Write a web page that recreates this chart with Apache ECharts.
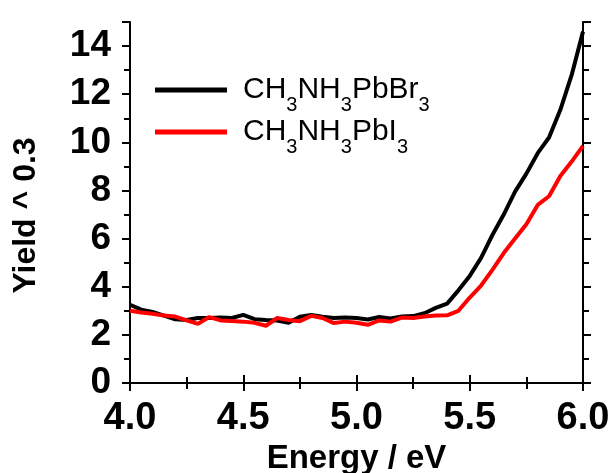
<!DOCTYPE html>
<html>
<head>
<meta charset="utf-8">
<script src="https://cdn.jsdelivr.net/npm/echarts@6/dist/echarts.min.js"></script>
<style>html,body{margin:0;padding:0;background:#fff}#c{width:614px;height:473px}</style>
</head>
<body>
<div id="c"></div>
<script>
var energy = [4.00,4.05,4.10,4.15,4.20,4.25,4.30,4.35,4.40,4.45,4.50,4.55,4.60,4.65,4.70,4.75,4.80,4.85,4.90,4.95,5.00,5.05,5.10,5.15,5.20,5.25,5.30,5.35,5.40,5.45,5.50,5.55,5.60,5.65,5.70,5.75,5.80,5.85,5.90,5.95,6.00];
var yieldBr = [3.25,3.05,2.95,2.8,2.65,2.62,2.7,2.7,2.72,2.7,2.83,2.65,2.62,2.6,2.5,2.75,2.83,2.75,2.7,2.72,2.7,2.64,2.74,2.68,2.76,2.78,2.9,3.12,3.3,3.85,4.45,5.2,6.15,7.0,7.95,8.7,9.55,10.2,11.35,12.8,14.6];
var yieldI = [3.0,2.93,2.88,2.8,2.76,2.6,2.46,2.74,2.6,2.58,2.55,2.5,2.38,2.7,2.62,2.57,2.79,2.7,2.49,2.55,2.5,2.42,2.6,2.55,2.72,2.7,2.76,2.8,2.81,3.0,3.55,4.05,4.7,5.4,6.0,6.6,7.4,7.76,8.6,9.2,9.85];
var seriesNames = ['CH3NH3PbBr3','CH3NH3PbI3'];
var legendRich = {
  'CH3NH3PbBr3': '{g|}{a|CH}{s|3}{a|NH}{s|3}{a|PbBr}{s|3}',
  'CH3NH3PbI3': '{g|}{a|CH}{s|3}{a|NH}{s|3}{a|PbI}{s|3}'
};
var xTicks = [4.0,4.5,5.0,5.5,6.0];

function pairs(xs, ys){ return xs.map(function(x,i){return [x, ys[i]];}); }

var FF = '"Liberation Sans", Arial, sans-serif';
var axisLine = {show:true, lineStyle:{color:'#000', width:2}};
var chart = echarts.init(document.getElementById('c'));
chart.setOption({
  animation:false,
  backgroundColor:'#fff',
  grid:{left:130, top:22, width:453, height:361, containLabel:false, outerBoundsMode:'none'},
  legend:{
    orient:'vertical', left:155, top:75, padding:0, itemWidth:72, itemHeight:5, itemGap:2,
    icon:'rect',
    data:seriesNames,
    formatter:function(n){return legendRich[n];},
    textStyle:{
      fontFamily:FF, color:'#000',
      rich:{
        g:{width:11, lineHeight:30, verticalAlign:'top'},
        a:{fontSize:30, fontFamily:FF, color:'#000', lineHeight:30, verticalAlign:'top'},
        s:{fontSize:20, fontFamily:FF, color:'#000', lineHeight:10, verticalAlign:'top', padding:[20,0,0,0]}
      }
    }
  },
  xAxis:[{
    type:'value', min:4, max:6, interval:0.5, position:'bottom',
    axisLine:axisLine,
    axisTick:{show:true, length:8, lineStyle:{color:'#000', width:2}},
    minorTick:{show:true, splitNumber:2, length:6, lineStyle:{color:'#000', width:2}},
    splitLine:{show:false},
    axisLabel:{fontFamily:FF, fontWeight:'bold', fontSize:38, color:'#000', margin:17,
      formatter:function(v){return v.toFixed(1);}},
    name:'Energy / eV', nameLocation:'middle', nameGap:59,
    nameTextStyle:{fontFamily:FF, fontWeight:'bold', fontSize:33, color:'#000'}
  },{
    type:'value', min:4, max:6, interval:0.5, position:'top',
    axisLine:axisLine,
    axisTick:{show:true, length:8, lineStyle:{color:'#000', width:2}},
    minorTick:{show:true, splitNumber:2, length:6, lineStyle:{color:'#000', width:2}},
    splitLine:{show:false}, axisLabel:{show:false}
  }],
  yAxis:[{
    type:'value', min:0, max:15, interval:2, position:'left',
    axisLine:axisLine,
    axisTick:{show:true, length:8, lineStyle:{color:'#000', width:2}},
    minorTick:{show:true, splitNumber:2, length:6, lineStyle:{color:'#000', width:2}},
    splitLine:{show:false},
    axisLabel:{fontFamily:FF, fontWeight:'bold', fontSize:37, color:'#000', margin:19, showMaxLabel:false},
    name:'Yield ^ 0.3', nameLocation:'middle', nameGap:88, nameRotate:90,
    nameTextStyle:{fontFamily:FF, fontWeight:'bold', fontSize:32, color:'#000', padding:[0,26,0,0]}
  },{
    type:'value', min:0, max:15, interval:2, position:'right',
    axisLine:axisLine,
    axisTick:{show:true, length:8, lineStyle:{color:'#000', width:2}},
    minorTick:{show:true, splitNumber:2, length:6, lineStyle:{color:'#000', width:2}},
    splitLine:{show:false}, axisLabel:{show:false}
  }],
  series:[{
    name:seriesNames[0], type:'line', xAxisIndex:0, yAxisIndex:0,
    data:pairs(energy, yieldBr), showSymbol:false, symbol:'none',
    lineStyle:{color:'#000', width:4}, itemStyle:{color:'#000'}, z:2
  },{
    name:seriesNames[1], type:'line', xAxisIndex:0, yAxisIndex:0,
    data:pairs(energy, yieldI), showSymbol:false, symbol:'none',
    lineStyle:{color:'#ff0000', width:4}, itemStyle:{color:'#ff0000'}, z:3
  }]
});
</script>
</body>
</html>
